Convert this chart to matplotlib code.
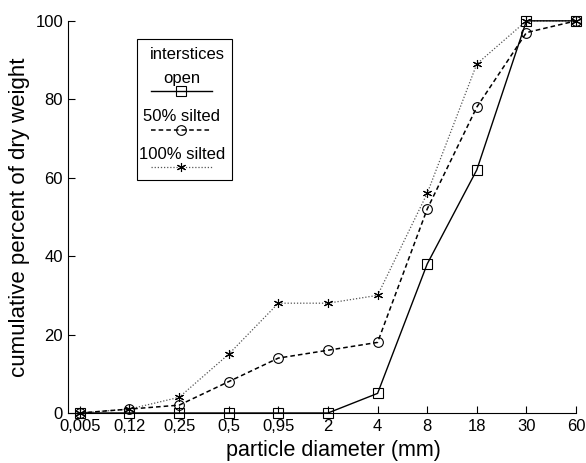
import matplotlib
matplotlib.use("Agg")
import matplotlib.pyplot as plt
from matplotlib.lines import Line2D
from matplotlib.patches import Rectangle

plt.rcParams["font.family"] = ["Liberation Sans", "DejaVu Sans"]

# particle size classes (mm) and cumulative percentages
sizes = ["0,005", "0,12", "0,25", "0,5", "0,95", "2", "4", "8", "18", "30", "60"]
open_pct = [0, 0, 0, 0, 0, 0, 5, 38, 62, 100, 100]
silted50_pct = [0, 1, 2, 8, 14, 16, 18, 52, 78, 97, 100]
silted100_pct = [0, 1, 4, 15, 28, 28, 30, 56, 89, 100, 100]
labels = ["open", "50% silted", "100% silted"]

x = list(range(len(sizes)))

fig = plt.figure(figsize=(5.86, 4.63), dpi=100)
ax = fig.add_axes([0.116, 0.108, 0.867, 0.847])

styles = [
    dict(ls="-", marker="s", color="black", lw=1.0, ms=6.5),
    dict(ls=(0, (3, 2)), marker="o", color="black", lw=1.1, ms=7),
    dict(ls=(0, (1, 1.5)), marker=(6, 2, 0), color="#555555", lw=0.9, ms=6.5),
]

for vals, st in zip([silted100_pct, silted50_pct, open_pct], styles[::-1]):
    ax.plot(x, vals, mfc="none", mec="black", mew=0.8, clip_on=False, **st)

ax.set_xlim(-0.24, 10)
ax.set_ylim(0, 100)
ax.set_xticks(x)
ax.set_xticklabels(sizes)
ax.set_yticks([0, 20, 40, 60, 80, 100])
ax.tick_params(direction="in", length=5, labelsize=12, width=0.8)
ax.tick_params(axis="x", pad=4)
ax.spines["top"].set_visible(False)
ax.spines["right"].set_visible(False)
ax.set_xlabel("particle diameter (mm)", fontsize=15.5)
ax.xaxis.set_label_coords(0.522, -0.096, transform=ax.transAxes)
ax.xaxis.label.set_va("center")
ax.set_ylabel("cumulative percent of dry weight", fontsize=16, labelpad=4)

# legend drawn by hand: label text above each line sample
ax.add_patch(Rectangle((0.136, 0.594), 0.187, 0.36, transform=ax.transAxes,
                       fill=False, lw=0.8, ec="black"))
ax.text(0.235, 0.915, "interstices", transform=ax.transAxes, ha="center",
        va="center", fontsize=12)
ypos = [(0.852, 0.822), (0.755, 0.722), (0.658, 0.627)]
for lab, st, (yt, yl) in zip(labels, styles, ypos):
    ax.text(0.224, yt, lab, transform=ax.transAxes, ha="center", va="center",
            fontsize=12)
    ax.add_line(Line2D([0.163, 0.283], [yl, yl], transform=ax.transAxes,
                       ls=st["ls"], color=st["color"], lw=st["lw"]))
    ax.add_line(Line2D([0.223], [yl], transform=ax.transAxes, ls="none",
                       marker=st["marker"], ms=st["ms"], mfc="none",
                       mec="black", mew=0.8))

fig.savefig("out.png", dpi=100)
